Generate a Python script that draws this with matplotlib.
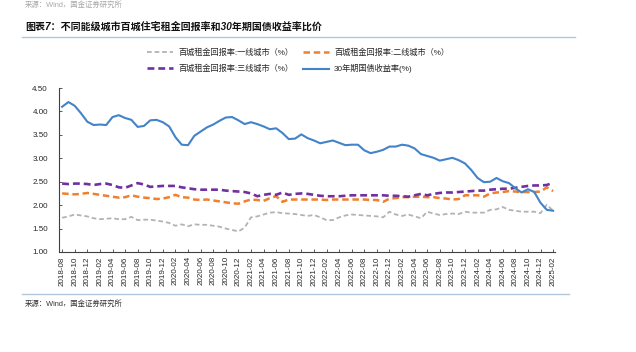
import numpy as np
import pandas as pd
import matplotlib
matplotlib.use("Agg")
import matplotlib.pyplot as plt
from matplotlib.lines import Line2D

plt.rcParams['font.family'] = ['Liberation Sans', 'Noto Sans CJK SC', 'DejaVu Sans']
plt.rcParams['axes.unicode_minus'] = False

# monthly, 2018-08 .. 2025-02
months = pd.date_range('2018-08-01', '2025-02-01', freq='MS').strftime('%Y-%m').tolist()

tier1 = [1.73, 1.76, 1.80, 1.78, 1.76, 1.72, 1.70, 1.71, 1.72, 1.70, 1.70, 1.75, 1.68, 1.69,
         1.69, 1.67, 1.65, 1.62, 1.56, 1.59, 1.55, 1.59, 1.58, 1.58, 1.56, 1.54, 1.50, 1.47,
         1.44, 1.52, 1.74, 1.76, 1.80, 1.84, 1.85, 1.83, 1.82, 1.81, 1.79, 1.77, 1.79, 1.74,
         1.68, 1.68, 1.74, 1.78, 1.80, 1.79, 1.78, 1.77, 1.76, 1.74, 1.86, 1.80, 1.77, 1.80,
         1.76, 1.72, 1.86, 1.82, 1.79, 1.81, 1.82, 1.81, 1.86, 1.84, 1.84, 1.84, 1.90, 1.91,
         1.96, 1.90, 1.88, 1.86, 1.86, 1.86, 1.83, 2.01, 1.88]
tier2 = [2.25, 2.24, 2.23, 2.24, 2.26, 2.24, 2.22, 2.20, 2.18, 2.16, 2.17, 2.21, 2.18, 2.16,
         2.15, 2.13, 2.14, 2.17, 2.22, 2.17, 2.16, 2.12, 2.11, 2.12, 2.10, 2.08, 2.06, 2.04,
         2.03, 2.08, 2.12, 2.11, 2.09, 2.15, 2.19, 2.07, 2.12, 2.12, 2.12, 2.12, 2.12, 2.12,
         2.11, 2.12, 2.12, 2.12, 2.12, 2.12, 2.12, 2.11, 2.11, 2.07, 2.14, 2.15, 2.17, 2.17,
         2.18, 2.18, 2.17, 2.17, 2.15, 2.14, 2.12, 2.13, 2.21, 2.21, 2.21, 2.18, 2.25, 2.27,
         2.28, 2.30, 2.29, 2.28, 2.28, 2.28, 2.29, 2.38, 2.30]
tier3 = [2.46, 2.45, 2.46, 2.46, 2.45, 2.43, 2.45, 2.46, 2.43, 2.38, 2.37, 2.42, 2.47, 2.44,
         2.39, 2.40, 2.41, 2.41, 2.41, 2.38, 2.36, 2.34, 2.33, 2.33, 2.33, 2.33, 2.31, 2.30,
         2.29, 2.28, 2.25, 2.19, 2.22, 2.24, 2.22, 2.27, 2.22, 2.24, 2.25, 2.24, 2.22, 2.20,
         2.19, 2.19, 2.19, 2.20, 2.21, 2.21, 2.21, 2.21, 2.21, 2.21, 2.20, 2.20, 2.19, 2.18,
         2.21, 2.24, 2.21, 2.24, 2.26, 2.27, 2.27, 2.28, 2.29, 2.30, 2.31, 2.31, 2.33, 2.34,
         2.35, 2.35, 2.37, 2.39, 2.41, 2.42, 2.42, 2.43, 2.48]
cgb30 = [4.10, 4.20, 4.12, 3.96, 3.78, 3.71, 3.72, 3.71, 3.88, 3.92, 3.86, 3.82, 3.67, 3.69,
         3.81, 3.82, 3.77, 3.68, 3.45, 3.29, 3.28, 3.48, 3.57, 3.66, 3.72, 3.80, 3.87, 3.88,
         3.81, 3.73, 3.77, 3.73, 3.68, 3.62, 3.64, 3.54, 3.41, 3.42, 3.51, 3.43, 3.38, 3.32,
         3.35, 3.38, 3.33, 3.28, 3.29, 3.29, 3.17, 3.11, 3.14, 3.18, 3.25, 3.25, 3.29, 3.27,
         3.21, 3.09, 3.05, 3.01, 2.95, 2.98, 3.01, 2.96, 2.89, 2.75, 2.58, 2.49, 2.50, 2.58,
         2.51, 2.47, 2.36, 2.27, 2.34, 2.28, 2.05, 1.90, 1.88]

labels = ['百城租金回报率:一线城市（%）', '百城租金回报率:二线城市（%）',
          '百城租金回报率:三线城市（%）', '30年期国债收益率(%)']
yticks = [1.00, 1.50, 2.00, 2.50, 3.00, 3.50, 4.00, 4.50]

GRAY = '#B3B3B3'
ORANGE = '#F07F2E'
PURPLE = '#7030A0'
BLUE = '#4283C9'
RULE = '#B2C7DC'

fig = plt.figure(figsize=(6.36, 3.52), dpi=100)
ax = fig.add_axes([59 / 636, 1 - 252 / 352, 496 / 636, 164 / 352])

x = np.arange(len(months))
l1, = ax.plot(x, tier1, color=GRAY, lw=1.3, dashes=(2.6, 1.6))
l2, = ax.plot(x, tier2, color=ORANGE, lw=1.8, dashes=(2.6, 1.5))
l3, = ax.plot(x, tier3, color=PURPLE, lw=1.9, dashes=(2.6, 1.5))
l4, = ax.plot(x, cgb30, color=BLUE, lw=1.5)

ax.set_xlim(-0.5, len(months) - 0.7)
ax.set_ylim(1.0, 4.5)
ax.set_yticks(yticks)
ax.set_yticklabels([f'{v:.2f}' for v in yticks])
ax.set_xticks(x[::2])
ax.set_xticklabels(months[::2], rotation=90)
ax.tick_params(axis='both', direction='in', length=2.5, width=0.6, color='#404040',
               labelsize=5.8, labelcolor='#262626')
ax.tick_params(axis='y', pad=8)
ax.tick_params(axis='x', pad=3)
for s in ['top', 'right']:
    ax.spines[s].set_visible(False)
for s in ['left', 'bottom']:
    ax.spines[s].set_color('#404040')
    ax.spines[s].set_linewidth(0.8)

# legend: two rows, gray/orange on top, purple/blue below
fig.legend([l1, l3, l2, l4], [labels[0], labels[2], labels[1], labels[3]],
           ncol=2, loc='center', bbox_to_anchor=(298 / 636, 1 - 61 / 352),
           frameon=False, fontsize=5.9, handlelength=3.2, handletextpad=0.6,
           columnspacing=1.2, labelspacing=0.9, labelcolor='#262626')

# header / footer
fig.text(25 / 636, 1 - 5 / 352, '来源：Wind，国金证券研究所', fontsize=5.3,
         color='#A8A8A8', va='center', ha='left')
fig.text(25 / 636, 1 - 27 / 352, '图表7：不同能级城市百城住宅租金回报率和30年期国债收益率比价',
         fontsize=7.2, fontweight='bold', fontstyle='italic', color='#111111',
         va='center', ha='left')
fig.add_artist(Line2D([22 / 636, 575 / 636], [1 - 37 / 352, 1 - 37 / 352],
                      color=RULE, lw=1.0))
fig.add_artist(Line2D([22 / 636, 569 / 636], [1 - 294 / 352, 1 - 294 / 352],
                      color=RULE, lw=1.0))
fig.text(25 / 636, 1 - 304 / 352, '来源：Wind，国金证券研究所', fontsize=5.3,
         color='#333333', va='center', ha='left')

fig.savefig('out.png', dpi=100, facecolor='white')
